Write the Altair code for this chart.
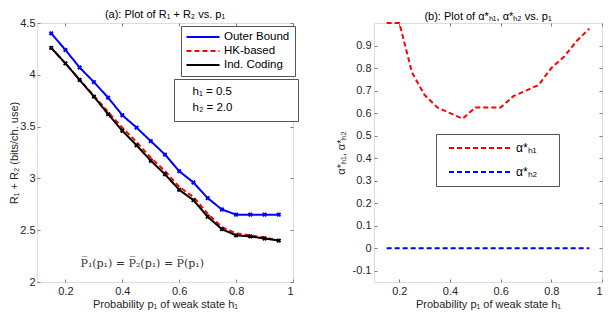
import altair as alt
import pandas as pd

FONT = "Liberation Sans"
TXT = "#262626"
FRAME = "#7f7f7f"

p1 = [0.15, 0.2, 0.25, 0.3, 0.35, 0.4, 0.45, 0.5, 0.55, 0.6, 0.65, 0.7, 0.75, 0.8, 0.85, 0.9, 0.95]
outer_bound = [4.40, 4.24, 4.07, 3.93, 3.78, 3.61, 3.49, 3.36, 3.23, 3.07, 2.96, 2.81, 2.70, 2.65, 2.65, 2.65, 2.65]
hk_based = [4.26, 4.11, 3.95, 3.80, 3.64, 3.49, 3.35, 3.20, 3.07, 2.92, 2.82, 2.66, 2.53, 2.47, 2.45, 2.43, 2.40]
ind_coding = [4.26, 4.11, 3.95, 3.79, 3.62, 3.46, 3.32, 3.17, 3.04, 2.89, 2.79, 2.63, 2.51, 2.45, 2.44, 2.42, 2.40]
alpha_h1 = [1.0, 1.0, 0.78, 0.68, 0.625, 0.60, 0.575, 0.625, 0.625, 0.625, 0.675, 0.70, 0.725, 0.80, 0.85, 0.92, 0.975]
alpha_h2 = [0.0] * 17

schemes = ["Outer Bound", "HK-based", "Ind. Coding"]
scheme_colors = ["#0000ff", "#ff0000", "#000000"]
scheme_dash = [[1, 0], [5, 3], [1, 0]]
alpha_names = ["α*ₕ₁", "α*ₕ₂"]
alpha_colors = ["#ff0000", "#0000ff"]
params = ["h₁ = 0.5", "h₂ = 2.0"]
param_slots = [params[0], params[1], "_pad1", "_pad2"]

x_ticks = [0.2, 0.4, 0.6, 0.8, 1]
ya_ticks = [2, 2.5, 3, 3.5, 4, 4.5]
yb_ticks = [-0.1, 0, 0.1, 0.2, 0.3, 0.4, 0.5, 0.6, 0.7, 0.8, 0.9]

W1, W2, H = 256, 228, 259

df_a = pd.DataFrame({
    "p1": p1 * 3,
    "rate": outer_bound + hk_based + ind_coding,
    "scheme": [schemes[0]] * 17 + [schemes[1]] * 17 + [schemes[2]] * 17,
})
df_b = pd.DataFrame({
    "p1": p1 * 2,
    "alpha": alpha_h1 + alpha_h2,
    "series": [alpha_names[0]] * 17 + [alpha_names[1]] * 17,
})
df_h = pd.DataFrame({"param": param_slots})

xs = alt.Scale(domain=[0.1, 1], nice=False, zero=False)
ysa = alt.Scale(domain=[2, 4.5], nice=False, zero=False)
ysb = alt.Scale(domain=[-0.15, 1], nice=False, zero=False)

LBL = "datum.value + ''"


def label_axis(orient, values, title, title_pad, label_pad=3):
    return alt.Axis(orient=orient, values=values, labelExpr=LBL, ticks=False, domain=False, grid=False,
                    labelFont=FONT, labelFontSize=11, labelColor=TXT, labelPadding=label_pad,
                    title=title, titleFont=FONT, titleFontSize=11, titleFontWeight="normal",
                    titleColor=TXT, titlePadding=title_pad)


def tick_axis(orient, values):
    return alt.Axis(orient=orient, values=values, offset=-3, tickSize=3, tickColor=FRAME,
                    labels=False, domain=False, grid=False, title=None)


def tick_layers(df, xf, yf, ys, yvals):
    a = alt.Chart(df).mark_point(opacity=0).encode(
        x=alt.X(xf, scale=xs, axis=tick_axis("bottom", x_ticks)),
        y=alt.Y(yf, scale=ys, axis=tick_axis("left", yvals)),
    )
    b = alt.Chart(df).mark_point(opacity=0).encode(
        x=alt.X(xf, scale=xs, axis=tick_axis("top", x_ticks)),
        y=alt.Y(yf, scale=ys, axis=tick_axis("right", yvals)),
    )
    return a, b


def title(text):
    return alt.TitleParams(text, font=FONT, fontSize=11, fontWeight="normal", color="black", offset=-3)


# ---------- panel (a)
leg_a = dict(title=None, orient="none", legendX=144, legendY=3, symbolType="M-3.3,0H3.3", symbolSize=100,
             symbolStrokeWidth=2, labelFont=FONT, labelFontSize=11.5, labelColor="black", labelLimit=300,
             strokeColor="#555", fillColor="white", padding=5, rowPadding=2, labelOffset=15, symbolOffset=11)

lines_a = alt.Chart(df_a).mark_line(strokeWidth=2).encode(
    x=alt.X("p1:Q", scale=xs, axis=label_axis("bottom", x_ticks, "Probability p₁ of weak state h₁", 2)),
    y=alt.Y("rate:Q", scale=ysa, axis=label_axis("left", ya_ticks, "R₁ + R₂ (bits/ch. use)", 0, 2)),
    color=alt.Color("scheme:N", scale=alt.Scale(domain=schemes, range=scheme_colors),
                    legend=alt.Legend(**leg_a), sort=schemes),
    strokeDash=alt.StrokeDash("scheme:N", scale=alt.Scale(domain=schemes, range=scheme_dash),
                              legend=alt.Legend(**leg_a), sort=schemes),
)

marks_outer = alt.Chart(df_a[df_a.scheme == schemes[0]]).mark_point(
    shape="cross", angle=45, size=24, filled=True, color="#0000ff", opacity=1).encode(
    x=alt.X("p1:Q", scale=xs, axis=None), y=alt.Y("rate:Q", scale=ysa, axis=None))
marks_ind = alt.Chart(df_a[df_a.scheme == schemes[2]]).mark_point(
    shape="cross", angle=45, size=24, filled=True, color="#000000", opacity=1).encode(
    x=alt.X("p1:Q", scale=xs, axis=None), y=alt.Y("rate:Q", scale=ysa, axis=None))

hbox = alt.Chart(df_h).mark_point(opacity=0).encode(
    x=alt.value(0), y=alt.value(0),
    shape=alt.Shape("param:N", sort=param_slots, scale=alt.Scale(domain=param_slots), legend=alt.Legend(
        title=None, orient="none", legendX=137, legendY=56, symbolSize=0, symbolOpacity=0,
        columns=2, columnPadding=46,
        labelExpr="indexof(datum.label, '_pad') == 0 ? '' : datum.label",
        labelFont=FONT, labelFontSize=11.5, labelColor="black", strokeColor="#555", fillColor="white",
        padding=7, rowPadding=3, labelOffset=0, symbolOffset=0)),
)

note = alt.Chart(pd.DataFrame({"x": [0.47], "y": [2.17], "t": ["P̅₁(p₁) = P̅₂(p₁) = P̅(p₁)"]})).mark_text(
    font="DejaVu Serif", fontSize=11, color="#333").encode(
    x=alt.X("x:Q", scale=xs, axis=None), y=alt.Y("y:Q", scale=ysa, axis=None), text="t:N")

ta1, ta2 = tick_layers(df_a, "p1:Q", "rate:Q", ysa, ya_ticks)

left = alt.layer(ta1, ta2, lines_a, marks_outer, marks_ind, hbox, note).resolve_axis(
    x="independent", y="independent").properties(
    width=W1, height=H, title=title("(a): Plot of R₁ + R₂ vs. p₁"))

# ---------- panel (b)
leg_b = dict(title=" ", titleOrient="right", titlePadding=14, orient="none", legendX=62, legendY=111,
             symbolType="M-6.2,0H6.2", symbolSize=100, labelLimit=300,
             symbolStrokeWidth=2, symbolDash=[5, 3], labelFont=FONT, labelFontSize=12, labelColor="black",
             strokeColor="#555", fillColor="white", padding=8, rowPadding=12, labelOffset=30, symbolOffset=30)

lines_b = alt.Chart(df_b).mark_line(strokeWidth=2, strokeDash=[5, 3]).encode(
    x=alt.X("p1:Q", scale=xs, axis=label_axis("bottom", x_ticks, "Probability p₁ of weak state h₁", 2)),
    y=alt.Y("alpha:Q", scale=ysb, axis=label_axis("left", yb_ticks, "α*ₕ₁, α*ₕ₂", 6)),
    color=alt.Color("series:N", scale=alt.Scale(domain=alpha_names, range=alpha_colors),
                    legend=alt.Legend(**leg_b), sort=alpha_names),
)

tb1, tb2 = tick_layers(df_b, "p1:Q", "alpha:Q", ysb, yb_ticks)

right = alt.layer(tb1, tb2, lines_b).resolve_axis(x="independent", y="independent").properties(
    width=W2, height=H, title=title("(b): Plot of α*ₕ₁, α*ₕ₂ vs. p₁"))

chart = alt.hconcat(left, right, spacing=35).resolve_scale(
    color="independent", strokeDash="independent", shape="independent"
).resolve_legend(color="independent", strokeDash="independent", shape="independent").properties(
    padding={"left": 0, "top": 0, "right": 0, "bottom": 0}
).configure_view(stroke=FRAME, strokeWidth=1).configure(background="white")

chart.save("out.html", embed_options={"renderer": "svg", "actions": False})
